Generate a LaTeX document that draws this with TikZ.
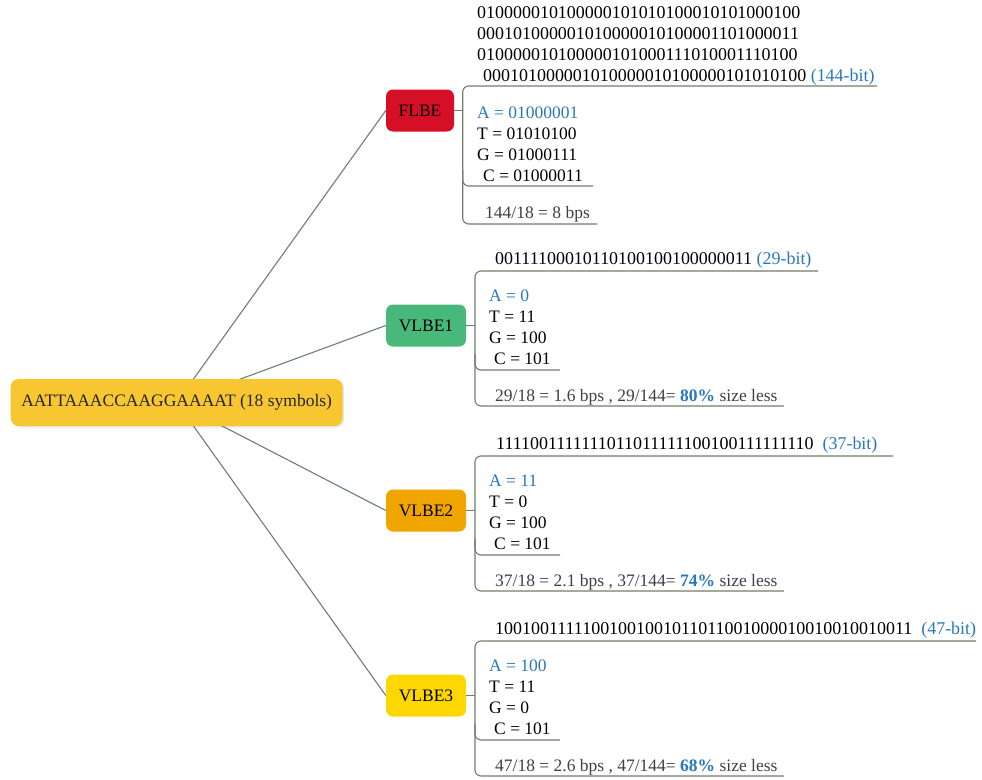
\documentclass[tikz,border=0pt]{standalone}
\usepackage{fontspec}
\setmainfont{Liberation Serif}
\usetikzlibrary{backgrounds,shadows}
\definecolor{rootc}{RGB}{248,198,48}
\definecolor{flbec}{RGB}{213,15,37}
\definecolor{vone}{RGB}{72,185,122}
\definecolor{vtwo}{RGB}{240,165,0}
\definecolor{vthree}{RGB}{255,215,0}
\definecolor{blu}{RGB}{40,120,190}
\definecolor{gtext}{RGB}{64,64,64}
\definecolor{linec}{RGB}{112,126,106}
\definecolor{connc}{RGB}{105,130,105}
\begin{document}
\begin{tikzpicture}[x=1pt,y=-1pt,
  txt/.style={anchor=base west, inner sep=0pt, font=\fontsize{17.5}{21}\selectfont},
  bin/.style={anchor=base west, inner sep=0pt, font=\fontsize{17.95}{21}\selectfont},
  cat/.style={rounded corners=7pt, inner sep=0pt, minimum height=42pt, font=\fontsize{17.5}{21}\selectfont, text=black},
  rootbox/.style={rounded corners=8pt, fill=rootc, inner sep=0pt, minimum width=332pt, minimum height=47pt, font=\fontsize{17.5}{21}\selectfont, text=black!85, drop shadow={opacity=0.18, shadow xshift=1.5pt, shadow yshift=-1.5pt}},
  brk/.style={draw=linec, line width=1.1pt, rounded corners=6pt},
  conn/.style={draw=connc, line width=1.1pt}]
\useasboundingbox (0,0) rectangle (982,779);

% nodes
\node[rootbox] (root) at (176.7,402.5) {AATTAAACCAAGGAAAAT (18 symbols)};
\node[cat, fill=flbec, minimum width=68pt] (flbe) at (420,110.5) {FLBE};
\node[cat, fill=vone, minimum width=80pt] (v1) at (426,325.5) {VLBE1};
\node[cat, fill=vtwo, minimum width=80pt] (v2) at (426,510.5) {VLBE2};
\node[cat, fill=vthree, minimum width=80pt] (v3) at (426,695.5) {VLBE3};

% connectors from root
\begin{scope}[on background layer]
\draw[conn] (root.center) -- (flbe.west);
\draw[conn] (root.center) -- (v1.west);
\draw[conn] (root.center) -- (v2.west);
\draw[conn] (root.center) -- (v3.west);
\end{scope}

% ---------- FLBE ----------
\node[bin] (fb1) at (477,18) {010000010100000101010100010101000100};
\node[bin] (fb2) at (477,39) {000101000001010000010100001101000011};
\node[bin] (fb3) at (477,60) {010000010100000101000111010001110100};
\node[bin] (fb4) at (483,81) {000101000001010000010100000101010100 \textcolor{blu}{(144-bit)}};
\node[txt, text=blu] (fa) at (477,118) {A = 01000001};
\node[txt] (ft) at (477,139) {T = 01010100};
\node[txt] (fg) at (477,160) {G = 01000111};
\node[txt] (fc) at (483,181) {C = 01000011};
\node[txt, text=gtext] (fr) at (485,218) {144/18 = 8 bps};
\coordinate (fx) at (462.7,86);
\draw[brk] (877,86) -- (462.7,86) -- (462.7,224) -- (597,224);
\draw[brk] (462.7,170) -- (462.7,186) -- (593,186);
\draw[brk] (flbe.east) -- (flbe.east -| fx);

% ---------- VLBE1 ----------
\node[bin] (a1) at (495,264) {00111100010110100100100000011 \textcolor{blu}{(29-bit)}};
\node[txt, text=blu] (a1a) at (489,301) {A = 0};
\node[txt] (a1t) at (489,322) {T = 11};
\node[txt] (a1g) at (489,343) {G = 100};
\node[txt] (a1c) at (494,364) {C = 101};
\node[txt, text=gtext] (a1r) at (495,401) {29/18 = 1.6 bps , 29/144= \textcolor{blu}{\textbf{80\%}} size less};
\coordinate (x1) at (475,271);
\draw[brk] (818,271) -- (475,271) -- (475,406) -- (784,406);
\draw[brk] (475,354) -- (475,370) -- (560,370);
\draw[brk] (v1.east) -- (v1.east -| x1);

% ---------- VLBE2 ----------
\node[bin] (a2) at (496,449) {1111001111111011011111100100111111110\ \ \textcolor{blu}{(37-bit)}};
\node[txt, text=blu] (a2a) at (489,486) {A = 11};
\node[txt] (a2t) at (489,507) {T = 0};
\node[txt] (a2g) at (489,528) {G = 100};
\node[txt] (a2c) at (494,549) {C = 101};
\node[txt, text=gtext] (a2r) at (495,586) {37/18 = 2.1 bps , 37/144= \textcolor{blu}{\textbf{74\%}} size less};
\coordinate (x2) at (475,456);
\draw[brk] (893,456) -- (475,456) -- (475,591) -- (784,591);
\draw[brk] (475,539) -- (475,555) -- (560,555);
\draw[brk] (v2.east) -- (v2.east -| x2);

% ---------- VLBE3 ----------
\node[bin] (a3) at (495,634) {10010011111001001001011011001000010010010010011\ \ \textcolor{blu}{(47-bit)}};
\node[txt, text=blu] (a3a) at (489,671) {A = 100};
\node[txt] (a3t) at (489,692) {T = 11};
\node[txt] (a3g) at (489,713) {G = 0};
\node[txt] (a3c) at (494,734) {C = 101};
\node[txt, text=gtext] (a3r) at (495,771) {47/18 = 2.6 bps , 47/144= \textcolor{blu}{\textbf{68\%}} size less};
\coordinate (x3) at (475,641);
\draw[brk] (976,641) -- (475,641) -- (475,776) -- (784,776);
\draw[brk] (475,724) -- (475,740) -- (560,740);
\draw[brk] (v3.east) -- (v3.east -| x3);
\end{tikzpicture}
\end{document}
